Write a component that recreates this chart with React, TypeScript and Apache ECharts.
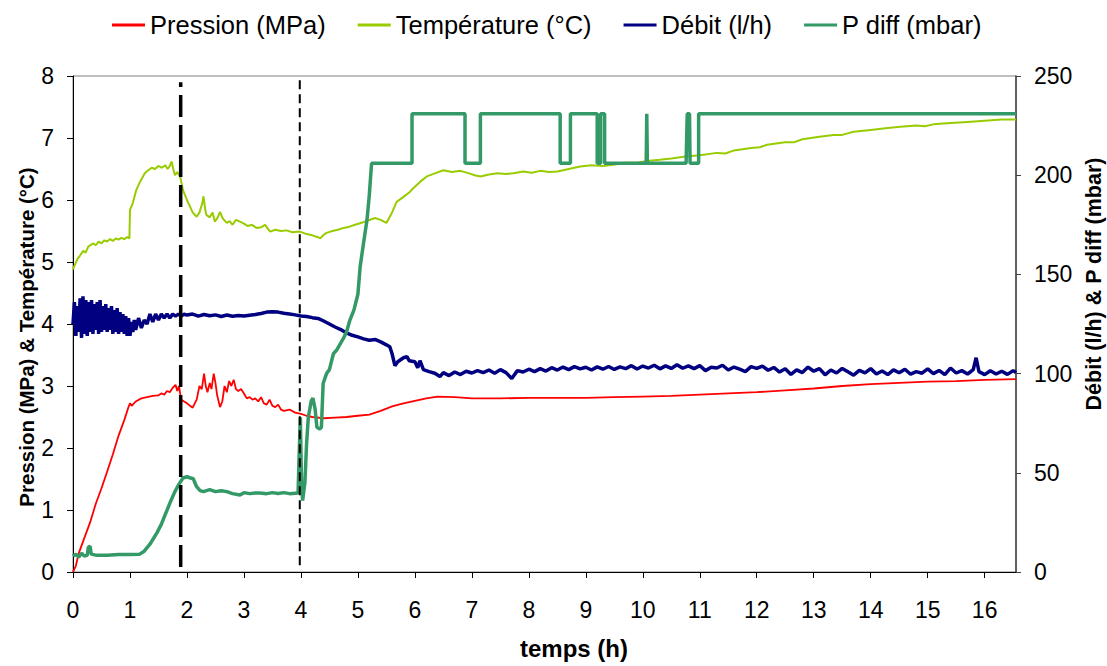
import React, { useEffect, useRef } from "react";
import * as echarts from "echarts";

const FONT = '"Liberation Sans", Arial, sans-serif';

const seriesNames = ["Pression (MPa)", "Température (°C)", "Débit (l/h)", "P diff (mbar)"];
const seriesColors = ["#FF0000", "#99CC00", "#000080", "#339966"];

const xTicks = { min: 0, max: 16.55, interval: 1 };
const yLeft = { min: 0, max: 8, interval: 1 };
const yRight = { min: 0, max: 250, interval: 50 };

const pression: [number, number][] = [
  [0, 0], [0.05, 0.1], [0.1, 0.3], [0.2, 0.55], [0.3, 0.8], [0.4, 1.1], [0.5, 1.35], [0.6, 1.62],
  [0.7, 1.9], [0.8, 2.2], [0.9, 2.45], [0.97, 2.65], [1.0, 2.72], [1.03, 2.68], [1.1, 2.75], [1.2, 2.8],
  [1.3, 2.82], [1.4, 2.84], [1.5, 2.85], [1.55, 2.88], [1.6, 2.86], [1.65, 2.92], [1.7, 2.9], [1.75, 2.97],
  [1.8, 3.02], [1.83, 2.92], [1.86, 3.0], [1.88, 2.88], [1.9, 2.78], [1.95, 2.75], [2.0, 2.72], [2.1, 2.65],
  [2.17, 2.78], [2.22, 3.0], [2.26, 2.95], [2.3, 3.2], [2.33, 3.0], [2.36, 2.9], [2.4, 3.05], [2.43, 2.95],
  [2.47, 3.2], [2.5, 3.05], [2.53, 2.85], [2.58, 2.66], [2.62, 2.75], [2.66, 3.0], [2.7, 2.9], [2.74, 3.08],
  [2.78, 3.0], [2.82, 3.1], [2.86, 2.95], [2.9, 2.92], [2.95, 2.95], [3.0, 2.88], [3.05, 2.8], [3.1, 2.82],
  [3.15, 2.78], [3.2, 2.8], [3.25, 2.75], [3.3, 2.82], [3.35, 2.72], [3.4, 2.7], [3.45, 2.78], [3.5, 2.68],
  [3.55, 2.66], [3.6, 2.7], [3.65, 2.62], [3.7, 2.6], [3.8, 2.62], [3.9, 2.57], [4.0, 2.55], [4.1, 2.52],
  [4.2, 2.5], [4.4, 2.48], [4.6, 2.49], [4.8, 2.5], [5.0, 2.52], [5.2, 2.54], [5.4, 2.6], [5.6, 2.67],
  [5.8, 2.72], [6.0, 2.76], [6.2, 2.8], [6.4, 2.83], [6.7, 2.82], [7.0, 2.8], [7.5, 2.8], [8.0, 2.81],
  [8.5, 2.81], [9.0, 2.81], [9.5, 2.82], [10.0, 2.83], [10.5, 2.84], [11.0, 2.86], [11.5, 2.88], [12.0, 2.9],
  [12.5, 2.93], [13.0, 2.96], [13.5, 3.0], [14.0, 3.03], [14.5, 3.05], [15.0, 3.07], [15.5, 3.08], [16.0, 3.1],
  [16.55, 3.11],
];

const temperature: [number, number][] = [
  [0, 4.88], [0.03, 4.95], [0.08, 5.05], [0.12, 5.1], [0.18, 5.18], [0.22, 5.15], [0.27, 5.25], [0.32, 5.28],
  [0.36, 5.3], [0.4, 5.27], [0.45, 5.33], [0.5, 5.3], [0.55, 5.35], [0.6, 5.33], [0.65, 5.37], [0.7, 5.34],
  [0.75, 5.38], [0.8, 5.36], [0.85, 5.39], [0.9, 5.37], [0.95, 5.4], [0.99, 5.38], [1.0, 5.84], [1.05, 5.95],
  [1.11, 6.16], [1.18, 6.3], [1.26, 6.43], [1.32, 6.48], [1.38, 6.52], [1.44, 6.5], [1.5, 6.55], [1.56, 6.52],
  [1.62, 6.56], [1.66, 6.5], [1.7, 6.55], [1.73, 6.62], [1.76, 6.5], [1.79, 6.4], [1.83, 6.45], [1.88, 6.38],
  [1.93, 6.16], [2.0, 6.0], [2.05, 5.9], [2.1, 5.8], [2.17, 5.73], [2.22, 5.8], [2.27, 5.95], [2.29, 6.06],
  [2.32, 5.85], [2.34, 5.76], [2.4, 5.72], [2.45, 5.8], [2.49, 5.65], [2.54, 5.72], [2.58, 5.81], [2.63, 5.7],
  [2.7, 5.63], [2.75, 5.66], [2.8, 5.6], [2.86, 5.68], [2.93, 5.65], [3.0, 5.62], [3.07, 5.58], [3.14, 5.6],
  [3.22, 5.55], [3.3, 5.56], [3.37, 5.6], [3.46, 5.49], [3.55, 5.52], [3.65, 5.5], [3.75, 5.51], [3.85, 5.48],
  [3.98, 5.49], [4.1, 5.45], [4.2, 5.43], [4.3, 5.4], [4.34, 5.38], [4.4, 5.44], [4.45, 5.47], [4.55, 5.5],
  [4.65, 5.52], [4.75, 5.55], [4.85, 5.57], [4.95, 5.6], [5.05, 5.63], [5.15, 5.66], [5.3, 5.71], [5.4, 5.68],
  [5.5, 5.63], [5.6, 5.8], [5.68, 5.97], [5.8, 6.05], [5.9, 6.12], [5.97, 6.19], [6.1, 6.3], [6.21, 6.38],
  [6.35, 6.43], [6.5, 6.48], [6.65, 6.45], [6.8, 6.47], [6.95, 6.43], [7.05, 6.4], [7.15, 6.38], [7.3, 6.41],
  [7.45, 6.43], [7.6, 6.42], [7.73, 6.43], [7.9, 6.46], [8.05, 6.44], [8.2, 6.47], [8.35, 6.45], [8.5, 6.46],
  [8.7, 6.5], [8.9, 6.54], [9.1, 6.56], [9.3, 6.55], [9.48, 6.57], [9.7, 6.6], [9.9, 6.6], [10.07, 6.63],
  [10.3, 6.65], [10.5, 6.67], [10.75, 6.7], [11.0, 6.72], [11.3, 6.76], [11.45, 6.75], [11.6, 6.8],
  [11.9, 6.84], [12.05, 6.85], [12.18, 6.89], [12.5, 6.93], [12.65, 6.93], [12.8, 6.98], [13.1, 7.02],
  [13.35, 7.05], [13.5, 7.05], [13.7, 7.1], [14.0, 7.13], [14.3, 7.16], [14.52, 7.18], [14.8, 7.2],
  [14.95, 7.19], [15.1, 7.22], [15.4, 7.24], [15.7, 7.26], [16.0, 7.28], [16.3, 7.3], [16.55, 7.3],
];

const debit: [number, number][] = [
  [0, 125], [0.025, 136], [0.05, 119], [0.075, 134], [0.1, 121], [0.125, 138], [0.15, 118], [0.175, 139],
  [0.2, 120], [0.225, 137], [0.25, 119], [0.275, 136], [0.3, 121], [0.325, 137], [0.35, 120], [0.375, 135],
  [0.4, 122], [0.425, 136], [0.45, 120], [0.475, 137], [0.5, 121], [0.525, 134], [0.55, 122], [0.575, 135],
  [0.6, 121], [0.625, 133], [0.65, 122], [0.675, 134], [0.7, 120], [0.725, 132], [0.75, 121], [0.775, 133],
  [0.8, 120], [0.825, 131], [0.85, 121], [0.875, 130], [0.9, 120], [0.925, 129], [0.95, 119], [0.975, 128],
  [1.0, 119], [1.025, 126], [1.05, 121], [1.075, 127], [1.1, 122], [1.15, 128], [1.2, 123], [1.25, 127],
  [1.3, 125], [1.35, 130], [1.4, 126], [1.45, 130], [1.5, 127], [1.55, 130], [1.6, 128], [1.65, 130],
  [1.7, 128], [1.75, 130], [1.8, 129], [1.85, 130], [1.9, 129], [1.95, 130], [2.0, 129.5], [2.1, 130],
  [2.2, 129], [2.3, 129.8], [2.4, 129.2], [2.5, 129.6], [2.6, 128.8], [2.7, 129.5], [2.8, 128.9], [2.9, 129.3],
  [3.0, 129], [3.1, 129.4], [3.2, 129.8], [3.3, 130.3], [3.4, 131], [3.5, 131.2], [3.6, 131], [3.7, 130.4],
  [3.8, 130], [3.9, 129.6], [4.0, 129], [4.1, 128.8], [4.2, 128.2], [4.3, 127.8], [4.4, 126.5], [4.5, 125],
  [4.6, 123.5], [4.7, 122.2], [4.8, 120.5], [4.9, 119.3], [5.0, 118.5], [5.1, 117.5], [5.2, 116.8], [5.3, 117.2],
  [5.4, 116], [5.5, 114.5], [5.56, 113.5], [5.6, 110], [5.65, 104], [5.7, 106], [5.8, 108], [5.86, 108.5],
  [5.9, 106.5], [6.0, 106], [6.05, 103], [6.09, 106.5], [6.15, 102], [6.25, 101], [6.35, 100.2], [6.44, 98.5],
  [6.5, 100.5], [6.6, 99], [6.7, 100.8], [6.8, 99.5], [6.9, 101.2], [7.0, 100.3], [7.1, 101.5], [7.2, 100.5],
  [7.3, 101.8], [7.4, 100.2], [7.5, 102], [7.6, 100.5], [7.7, 97.5], [7.8, 101.5], [7.9, 100.8], [8.0, 102.2],
  [8.1, 101], [8.2, 102.5], [8.3, 101.3], [8.4, 103], [8.5, 101.8], [8.6, 103.3], [8.7, 102], [8.8, 103.5],
  [8.9, 102.4], [9.0, 103.2], [9.1, 101.8], [9.2, 103.4], [9.3, 102.2], [9.4, 103.6], [9.5, 102.1], [9.6, 103.4],
  [9.7, 102.5], [9.8, 104], [9.9, 102.3], [10.0, 103.8], [10.1, 102.8], [10.2, 104.2], [10.3, 102.4], [10.4, 103.9],
  [10.5, 102.6], [10.6, 104.5], [10.7, 102.7], [10.8, 103.9], [10.9, 102.5], [11.0, 104], [11.1, 101.5], [11.2, 103.2],
  [11.3, 102.8], [11.4, 104.2], [11.5, 101.8], [11.6, 103.3], [11.7, 102.2], [11.8, 101], [11.9, 103.5], [12.0, 102.6],
  [12.1, 103.8], [12.2, 101.7], [12.3, 103.1], [12.4, 100.8], [12.5, 102.4], [12.6, 99.6], [12.7, 101.9], [12.8, 100.5],
  [12.9, 103.3], [13.0, 101.2], [13.1, 102.5], [13.2, 99.4], [13.3, 101.8], [13.4, 100.3], [13.5, 102.6], [13.6, 100.9],
  [13.7, 99.2], [13.8, 101.6], [13.9, 100.4], [14.0, 102.5], [14.1, 99.8], [14.2, 101.3], [14.3, 99.5], [14.4, 101.9],
  [14.5, 100.4], [14.6, 102.2], [14.7, 99.7], [14.8, 101], [14.9, 100.2], [15.0, 102.4], [15.1, 100], [15.2, 101.6],
  [15.3, 99.5], [15.4, 102.8], [15.5, 100.3], [15.6, 101.5], [15.7, 99.8], [15.8, 102], [15.85, 108], [15.9, 101],
  [16.0, 99.5], [16.1, 101.4], [16.2, 99.8], [16.3, 101.2], [16.4, 99.6], [16.5, 101.5], [16.55, 100.5],
];

const pDiff: [number, number][] = [
  [0, 8], [0.05, 9], [0.1, 7.5], [0.15, 9.5], [0.2, 8], [0.25, 8.5], [0.27, 12.5], [0.3, 13], [0.32, 9],
  [0.4, 8.5], [0.6, 8.5], [0.8, 8.8], [1.0, 8.8], [1.17, 9], [1.25, 10.5], [1.35, 14], [1.47, 19.6], [1.55, 24],
  [1.62, 29], [1.7, 34.7], [1.78, 40], [1.85, 43.8], [1.93, 47.4], [2.0, 48], [2.05, 47.5], [2.11, 47],
  [2.17, 43], [2.23, 41], [2.29, 40.5], [2.4, 41.5], [2.5, 40.5], [2.6, 41], [2.7, 40.5], [2.8, 39.5],
  [2.93, 38.8], [3.0, 40], [3.1, 39.5], [3.2, 39.8], [3.28, 39.8], [3.4, 39.5], [3.5, 40], [3.6, 39.6],
  [3.7, 40], [3.8, 39.5], [3.95, 39.8], [3.97, 60], [3.99, 78], [4.01, 45], [4.03, 36], [4.07, 45],
  [4.1, 65], [4.13, 78], [4.18, 86], [4.21, 87.7], [4.25, 82], [4.28, 73], [4.33, 72], [4.36, 73],
  [4.39, 95], [4.45, 100], [4.5, 102], [4.57, 110], [4.63, 112], [4.69, 115], [4.75, 118], [4.8, 121],
  [4.86, 127], [4.93, 132], [5.0, 140], [5.04, 154], [5.1, 166], [5.16, 177.5], [5.2, 190], [5.24, 206],
  [5.95, 206], [5.95, 231], [6.88, 231], [6.88, 206], [7.15, 206], [7.15, 231], [8.55, 231], [8.55, 206],
  [8.73, 206], [8.73, 231], [9.2, 231], [9.2, 206], [9.26, 206], [9.26, 231], [9.33, 231], [9.33, 206],
  [10.06, 206], [10.07, 231], [10.08, 206], [10.76, 206], [10.78, 231], [10.82, 231], [10.83, 206],
  [10.98, 206], [10.98, 231], [16.55, 231],
];

// vertical markers (time in h, from / to on the left axis)
const markerTimes = [1.89, 3.98];
const markerRanges: [number, number][] = [[0.08, 7.9], [0.11, 7.93]];

export default function App() {
  const ref = useRef<HTMLDivElement>(null);
  useEffect(() => {
    if (!ref.current) return;
    const chart = echarts.init(ref.current, undefined, { renderer: "svg" });
    const dataSets = [pression, temperature, debit, pDiff];
    const widths = [1.8, 2, 3.5, 3.5];
    const axisIdx = [0, 0, 1, 1];
    const lineSeries: any[] = seriesNames.map((name, i) => ({
      name,
      type: "line",
      data: dataSets[i],
      yAxisIndex: axisIdx[i],
      showSymbol: false,
      symbol: "none",
      lineStyle: { color: seriesColors[i], width: widths[i] },
      itemStyle: { color: seriesColors[i] },
      z: 2 + i,
    }));
    const markerStyles = [
      { width: 3.5, type: [22, 8] },
      { width: 2, type: [9, 5] },
    ];
    markerTimes.forEach((t, i) => {
      lineSeries.push({
        name: "marker" + i,
        type: "line",
        data: [[t, markerRanges[i][0]], [t, markerRanges[i][1]]],
        yAxisIndex: 0,
        symbol: "none",
        lineStyle: { color: "#000", width: markerStyles[i].width, type: markerStyles[i].type },
        z: 10,
      });
    });
    const labelStyle = { fontSize: 23, color: "#000", fontFamily: FONT };
    chart.setOption({
      animation: false,
      backgroundColor: "#fff",
      textStyle: { fontFamily: FONT },
      grid: { left: 73, right: 91, top: 76, bottom: 94, show: true, borderColor: "#808080", borderWidth: 1 },
      legend: {
        data: seriesNames,
        top: 7,
        left: 107,
        itemWidth: 33,
        itemHeight: 3,
        itemGap: 32,
        icon: "rect",
        textStyle: { fontSize: 25.5, color: "#000", fontFamily: FONT },
      },
      xAxis: {
        type: "value",
        min: xTicks.min,
        max: xTicks.max,
        interval: xTicks.interval,
        axisLine: { lineStyle: { color: "#000", width: 1 } },
        axisTick: { length: 6, lineStyle: { color: "#000" } },
        axisLabel: { ...labelStyle, margin: 26, showMaxLabel: false },
        splitLine: { show: false },
      },
      yAxis: [
        {
          type: "value",
          min: yLeft.min,
          max: yLeft.max,
          interval: yLeft.interval,
          position: "left",
          axisLine: { show: true, lineStyle: { color: "#000", width: 1 } },
          axisTick: { show: true, length: 6, lineStyle: { color: "#000" } },
          axisLabel: { ...labelStyle, margin: 19 },
          splitLine: { show: false },
        },
        {
          type: "value",
          min: yRight.min,
          max: yRight.max,
          interval: yRight.interval,
          position: "right",
          axisLine: { show: true, lineStyle: { color: "#404040", width: 1.5 } },
          axisTick: { show: true, length: 5, lineStyle: { color: "#404040" } },
          axisLabel: { ...labelStyle, margin: 18 },
          splitLine: { show: false },
        },
      ],
      graphic: [
        {
          type: "text",
          x: 26,
          y: 337,
          rotation: Math.PI / 2,
          style: {
            text: "Pression (MPa) & Température (°C)",
            fontSize: 20.5,
            fontWeight: "bold",
            fontFamily: FONT,
            fill: "#000",
            align: "center",
            verticalAlign: "middle",
          },
        },
        {
          type: "text",
          x: 1094,
          y: 284,
          rotation: Math.PI / 2,
          style: {
            text: "Débit (l/h) & P diff (mbar)",
            fontSize: 21.5,
            fontWeight: "bold",
            fontFamily: FONT,
            fill: "#000",
            align: "center",
            verticalAlign: "middle",
          },
        },
        {
          type: "text",
          x: 574,
          y: 648,
          style: {
            text: "temps (h)",
            fontSize: 24,
            fontWeight: "bold",
            fontFamily: FONT,
            fill: "#000",
            align: "center",
            verticalAlign: "middle",
          },
        },
      ],
      series: lineSeries,
    });
    return () => chart.dispose();
  }, []);
  return (
    <div
      ref={ref}
      style={{ position: "absolute", left: 0, top: 0, width: 1107, height: 666 }}
    />
  );
}
